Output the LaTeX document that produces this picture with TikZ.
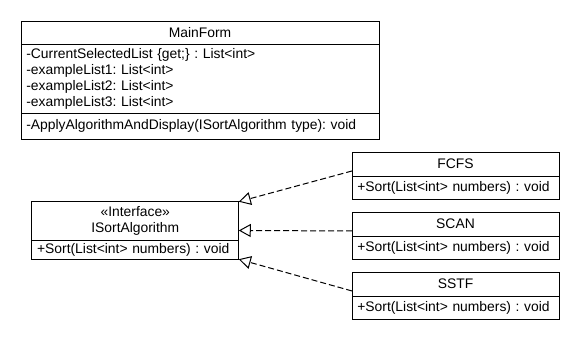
\documentclass[tikz,border=0pt]{standalone}
\usepackage{fontspec}
\setmainfont{Liberation Sans}
\usetikzlibrary{arrows.meta, positioning, fit}

\begin{document}
\begin{tikzpicture}[x=0.75pt, y=-0.75pt, line width=0.75pt,
    every node/.style={font=\fontsize{10.4}{12}\selectfont\frenchspacing, outer sep=0pt},
    classhead/.style={draw, inner sep=0pt, align=center, text width=#1},
    classbody/.style={draw, inner xsep=4pt, inner ysep=0pt, align=left, text width=#1},
    realizes/.style={dash pattern=on 4.5pt off 2.25pt, -{Triangle[open, length=9pt, width=9.75pt]}},
    node distance=0pt
    ]
    \useasboundingbox (0,0) rectangle (580,340);

    % the form class
    \node[classhead=268.5pt, minimum height=17.25pt] (main) at (200,32.5) {MainForm};
    \node[classbody=260.5pt, minimum height=51.75pt, below=of main] (main-attr)
        {-CurrentSelectedList \{get;\} : List<int>\\
         -exampleList1: List<int>\\
         -exampleList2: List<int>\\
         -exampleList3: List<int>};
    \node[classbody=260.5pt, minimum height=19.5pt, below=of main-attr] (main-ops)
        {-ApplyAlgorithmAndDisplay(ISortAlgorithm type): void};

    % the interface
    \node[classhead=155.25pt, minimum height=29.25pt] (isort) at (135.25,221.2)
        {«Interface»\\ISortAlgorithm};
    \node[classbody=147.25pt, minimum height=13.9pt, below=of isort] (isort-ops)
        {+Sort(List<int> numbers) : void};
    \node[fit=(isort)(isort-ops), inner sep=0pt] (isort-box) {};

    % the three algorithms, stacked
    \foreach \cls [count=\i from 0, remember=\cls as \prevcls] in {FCFS,SCAN,SSTF} {
        \ifnum \i = 0
        \node[classhead=155.25pt, minimum height=18pt] (\cls) at (455.5,164) {\cls};
        \else
        \node[classhead=155.25pt, minimum height=18pt, below=9.75pt of \prevcls-ops] (\cls) {\cls};
        \fi
        \node[classbody=147.25pt, minimum height=17.25pt, below=of \cls] (\cls-ops)
            {+Sort(List<int> numbers) : void};
        \node[fit=(\cls)(\cls-ops), inner sep=0pt] (\cls-box) {};
    }

    % realizations
    \draw[realizes] ([yshift=3.4pt]FCFS-box.west) -- (isort-box.north east);
    \draw[realizes] ([yshift=3.4pt]SCAN-box.west) -- (isort-box.east);
    \draw[realizes] ([yshift=3.4pt]SSTF-box.west) -- (isort-box.south east);
\end{tikzpicture}
\end{document}
